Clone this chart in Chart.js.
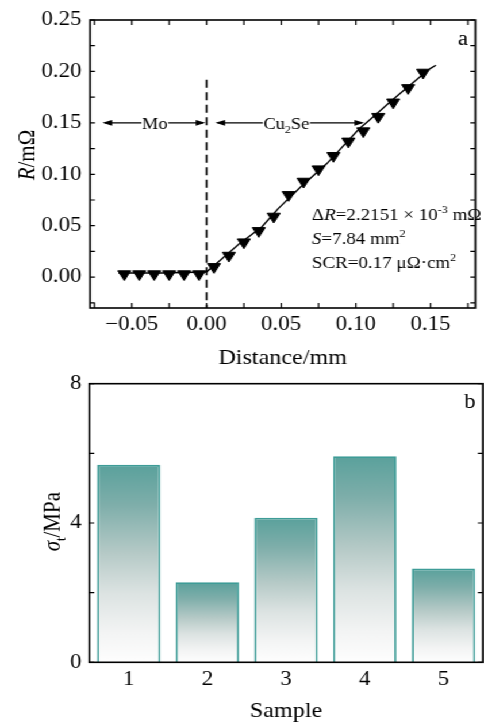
<!DOCTYPE html>
<html><head><meta charset="utf-8">
<script src="https://cdn.jsdelivr.net/npm/chart.js@4.4.1/dist/chart.umd.min.js"></script>
<style>
html,body{margin:0;padding:0;background:#fff;overflow:hidden;width:484px;height:724px;}
#wrap{position:absolute;left:0;top:0;width:421px;height:724px;transform:scaleX(1.1496);transform-origin:0 0;}
#c1{position:absolute;left:0;top:0;}
#c2{position:absolute;left:0;top:365px;}
</style></head>
<body><div id="wrap"><canvas id="c1" width="421" height="366"></canvas><canvas id="c2" width="421" height="359"></canvas></div>
<script>
const FONT = "'Liberation Serif','Times New Roman',serif";
const SX = 1.1496; // horizontal stretch of the figure

// ---- (a) resistance line scan ----
const distanceMeasured   = [-0.055,-0.045,-0.035,-0.025,-0.015,-0.005,0.005,0.015,0.025,0.035,0.045,0.055,0.065,0.075,0.085,0.095,0.105,0.115,0.125,0.135,0.145];
const resistanceMeasured = [0.003,0.003,0.003,0.003,0.003,0.003,0.010,0.021,0.034,0.045,0.059,0.080,0.093,0.105,0.118,0.132,0.142,0.156,0.170,0.184,0.199];
const fitDistance   = [-0.059,-0.030,0.000,0.0065,0.022,0.037,0.048,0.063,0.0806,0.1024,0.109,0.1242,0.1416,0.150,0.1536];
const fitResistance = [0.004,0.004,0.005,0.013,0.0325,0.0487,0.0666,0.0877,0.1104,0.1445,0.1526,0.172,0.1932,0.203,0.206];
const boundaryDistance   = [0, 0];
const boundaryResistance = [0.192, -0.03];
const xMajorTicks = [-0.05, 0, 0.05, 0.10, 0.15];
const xMinorTicks = [-0.075, -0.025, 0.025, 0.075, 0.125, 0.175];
const yMajorTicks = [0, 0.05, 0.10, 0.15, 0.20, 0.25];
const yMinorTicks = [-0.025, 0.025, 0.075, 0.125, 0.175, 0.225];

// ---- (b) tensile strength ----
const sampleLabels = ['1','2','3','4','5'];
const tensileStrength = [5.67, 2.30, 4.15, 5.92, 2.69];
const strengthMajorTicks = [0, 4, 8];
const strengthMinorTicks = [2, 6];

function pts(xs, ys){ return xs.map((x,i)=>({x:x, y:ys[i]})); }
function fnt(s){ return (s.italic?'italic ':'') + s.size + 'px ' + FONT; }
function drawRich(ctx, segs, x, y, align){
  let total = 0;
  segs.forEach(s=>{ ctx.font = fnt(s); s.w = ctx.measureText(s.t).width; total += s.w; });
  let cx = align==='center' ? x - total/2 : (align==='right' ? x - total : x);
  ctx.textAlign = 'left'; ctx.textBaseline = 'alphabetic'; ctx.fillStyle = '#000';
  segs.forEach(s=>{ ctx.font = fnt(s); ctx.fillText(s.t, cx, y + (s.dy||0)); cx += s.w; });
  return total;
}
function richWidth(ctx, segs){ let t=0; segs.forEach(s=>{ctx.font=fnt(s); t+=ctx.measureText(s.t).width;}); return t; }

function framePlugin(xTicks, yTicks, drawX){
  return {
    id: 'frame',
    afterDatasetsDraw(chart){
      const {ctx, chartArea:a, scales} = chart;
      ctx.save();
      ctx.strokeStyle = '#000'; ctx.lineWidth = 1.6;
      ctx.strokeRect(a.left, a.top, a.right - a.left, a.bottom - a.top);
      ctx.lineWidth = 1.2;
      const lx = 5 / SX, ly = 5;
      ctx.beginPath();
      if (drawX) xTicks.forEach(v=>{
        const p = scales.x.getPixelForValue(v);
        ctx.moveTo(p, a.bottom); ctx.lineTo(p, a.bottom - ly);
        ctx.moveTo(p, a.top); ctx.lineTo(p, a.top + ly);
      });
      yTicks.forEach(v=>{
        const p = scales.y.getPixelForValue(v);
        ctx.moveTo(a.left, p); ctx.lineTo(a.left + lx, p);
        ctx.moveTo(a.right, p); ctx.lineTo(a.right - lx, p);
      });
      ctx.stroke();
      ctx.restore();
    }
  };
}

const annotA = {
  id: 'annotA',
  afterDatasetsDraw(chart){
    const {ctx, chartArea:a, scales:{x, y}} = chart;
    ctx.save();
    ctx.fillStyle = '#000'; ctx.strokeStyle = '#000'; ctx.lineWidth = 1.3;
    const yl = y.getPixelForValue(0.15);
    function head(tip, dir){
      ctx.beginPath(); ctx.moveTo(tip, yl);
      ctx.lineTo(tip - dir*8.5, yl - 2.8); ctx.lineTo(tip - dir*8.5, yl + 2.8); ctx.closePath(); ctx.fill();
    }
    function arrow(x1v, x2v, cv, segs){
      const x1 = x.getPixelForValue(x1v), x2 = x.getPixelForValue(x2v), c = x.getPixelForValue(cv);
      const w = richWidth(ctx, segs);
      ctx.beginPath();
      ctx.moveTo(x1 + 2, yl); ctx.lineTo(c - w/2 - 0.5, yl);
      ctx.moveTo(c + w/2 + 0.5, yl); ctx.lineTo(x2 - 2, yl);
      ctx.stroke();
      head(x1, -1); head(x2, 1);
      drawRich(ctx, segs, c, yl + 6.3, 'center');
    }
    arrow(-0.0697, -0.0007, -0.0346, [{t:'Mo', size:16}]);
    arrow(0.0059, 0.1056, 0.0535, [{t:'Cu', size:16},{t:'2', size:10.5, dy:4},{t:'Se', size:16}]);

    const tx = x.getPixelForValue(0.0706);
    drawRich(ctx, [{t:'\u0394', size:16.5},{t:'R', size:16.5, italic:true},{t:'=2.2151 \u00d7 10', size:16.5},{t:'-3', size:10.5, dy:-7},{t:' m\u03a9', size:16.5}], tx, 220.4, 'left');
    drawRich(ctx, [{t:'S', size:16.5, italic:true},{t:'=7.84 mm', size:16.5},{t:'2', size:10.5, dy:-7}], tx, 244.4, 'left');
    drawRich(ctx, [{t:'SCR=0.17 \u03bc\u03a9\u00b7cm', size:16.5},{t:'2', size:10.5, dy:-7}], tx, 268.4, 'left');

    drawRich(ctx, [{t:'a', size:20}], a.right - 6.3, 45, 'right');

    ctx.translate(23.2, 155); ctx.rotate(-Math.PI/2);
    drawRich(ctx, [{t:'R', size:21, italic:true},{t:'/m\u03a9', size:21}], 0, 7, 'center');
    ctx.restore();
  }
};

const annotB = {
  id: 'annotB',
  afterDatasetsDraw(chart){
    const {ctx, chartArea:a} = chart;
    ctx.save();
    drawRich(ctx, [{t:'b', size:20}], a.right - 6.3, 43.3, 'right');
    ctx.translate(45, 156.7); ctx.rotate(-Math.PI/2);
    drawRich(ctx, [{t:'\u03c3', size:21, italic:true},{t:'t', size:12.5, dy:5},{t:'/MPa', size:21}], 0, 7, 'center');
    ctx.restore();
  }
};

const tickFont = {family: FONT, size: 20};
const fmt2 = v => (Math.abs(v) < 1e-9 ? '0.00' : v.toFixed(2)).replace('-', '\u2212');

new Chart(document.getElementById('c1'), {
  type: 'scatter',
  data: { datasets: [
    { data: pts(fitDistance, fitResistance), showLine: true, borderColor: '#000', borderWidth: 1.4, pointRadius: 0, fill: false },
    { data: pts(boundaryDistance, boundaryResistance), showLine: true, borderColor: '#000', borderWidth: 1.6, borderDash: [8, 4.5], pointRadius: 0, fill: false },
    { data: pts(distanceMeasured, resistanceMeasured), showLine: false, pointStyle: 'triangle', rotation: 180, pointRadius: 6.5, backgroundColor: '#000', borderColor: '#000', borderWidth: 1 }
  ]},
  options: {
    responsive: false, animation: false, devicePixelRatio: 1,
    layout: { padding: { top: 20, right: 1, left: 0, bottom: 0 } },
    plugins: { legend: { display: false }, tooltip: { enabled: false } },
    scales: {
      x: { type: 'linear', min: -0.078, max: 0.18,
        afterBuildTicks: s => { s.ticks = xMajorTicks.map(v => ({value: v})); },
        afterFit: s => { s.height = 58; },
        grid: { display: false, drawTicks: false }, border: { display: false },
        ticks: { font: tickFont, color: '#000', padding: 5, maxRotation: 0, autoSkip: false, callback: v => fmt2(v) },
        title: { display: true, text: 'Distance/mm', color: '#000', font: { family: FONT, size: 21, lineHeight: '16px' }, padding: { top: 0, bottom: 0 } }
      },
      y: { type: 'linear', min: -0.03, max: 0.25,
        afterBuildTicks: s => { s.ticks = yMajorTicks.map(v => ({value: v})); },
        afterFit: s => { s.width = 78.3; },
        grid: { display: false, drawTicks: false }, border: { display: false },
        ticks: { font: tickFont, color: '#000', padding: 7.3, autoSkip: false, callback: v => fmt2(v) }
      }
    }
  },
  plugins: [framePlugin(xMajorTicks.concat(xMinorTicks), yMajorTicks.concat(yMinorTicks), true), annotA]
});

new Chart(document.getElementById('c2'), {
  type: 'bar',
  data: { labels: sampleLabels, datasets: [{
    data: tensileStrength,
    backgroundColor: (c) => {
      const ch = c.chart;
      if (!ch.chartArea || c.type !== 'data') return '#9fbfbc';
      const ys = ch.scales.y;
      const top = ys.getPixelForValue(c.raw), bot = ys.getPixelForValue(0);
      const g = ch.ctx.createLinearGradient(0, top, 0, bot);
      g.addColorStop(0, '#5aa19c');
      g.addColorStop(0.2, '#7eaeaa');
      g.addColorStop(0.45, '#b6cac7');
      g.addColorStop(0.65, '#dce3e2');
      g.addColorStop(0.85, '#f3f4f4');
      g.addColorStop(1, '#fefefe');
      return g;
    },
    borderColor: '#3e9c97', borderWidth: 1.8, borderSkipped: 'start',
    barPercentage: 0.804, categoryPercentage: 1.0
  }]},
  options: {
    responsive: false, animation: false, devicePixelRatio: 1,
    layout: { padding: { top: 16.7, right: 1, left: 0, bottom: 0 } },
    plugins: { legend: { display: false }, tooltip: { enabled: false } },
    scales: {
      x: { type: 'category', offset: true,
        afterFit: s => { s.height = 61.7; },
        grid: { display: false, drawTicks: false }, border: { display: false },
        ticks: { font: tickFont, color: '#000', padding: 5.7, maxRotation: 0 },
        title: { display: true, text: 'Sample', color: '#000', font: { family: FONT, size: 21, lineHeight: '24.6px' }, padding: { top: 0, bottom: 0 } }
      },
      y: { type: 'linear', min: 0, max: 8,
        afterBuildTicks: s => { s.ticks = strengthMajorTicks.map(v => ({value: v})); },
        afterFit: s => { s.width = 77.7; },
        grid: { display: false, drawTicks: false }, border: { display: false },
        ticks: { font: tickFont, color: '#000', padding: 6.7, autoSkip: false, callback: v => String(v) }
      }
    }
  },
  plugins: [framePlugin([], strengthMajorTicks.concat(strengthMinorTicks), false), annotB]
});
</script>
</body></html>
